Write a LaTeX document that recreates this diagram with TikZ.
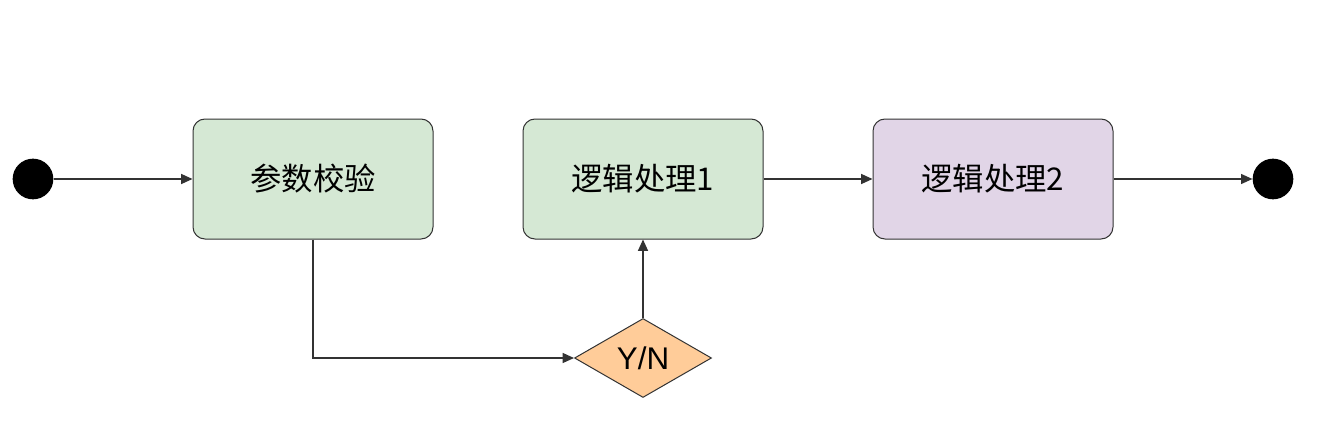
\documentclass[tikz,border=0pt]{standalone}
\usepackage{fontspec}
\setmainfont{Liberation Sans}
\newfontfamily\cjk{Noto Sans CJK SC}
\usetikzlibrary{shapes.geometric,arrows.meta}
\definecolor{stepgreen}{HTML}{D5E8D4}
\definecolor{steppurple}{HTML}{E1D5E7}
\definecolor{choiceorange}{HTML}{FFCC99}
\definecolor{lineGray}{HTML}{333333}
\tikzset{
  stepbox/.style={draw=black!80, line width=0.75pt, rounded corners=9pt,
    minimum width=180pt, minimum height=90pt, inner sep=0pt,
    font=\cjk\fontsize{23.5}{27}\selectfont},
  dot/.style={circle, fill=black, minimum size=30.5pt, inner sep=0pt},
  choice/.style={diamond, draw=black!80, line width=0.75pt, fill=choiceorange,
    minimum width=102.75pt, minimum height=59.25pt, inner sep=0pt,
    font=\fontsize{23.5}{27}\selectfont},
  flow/.style={draw=lineGray, line width=0.9pt, -{Triangle[length=8.5pt,width=7.5pt]}}
}
\begin{document}
\begin{tikzpicture}[x=0.75pt,y=-0.75pt]
      \def\midy{179};
      \useasboundingbox (0,0) rectangle (1328,428);
      \node[dot] (start) at (33,\midy) {};
      \node[stepbox, fill=stepgreen] (check) at (313,\midy) {参数校验};
      \node[stepbox, fill=stepgreen] (logicA) at (643,\midy) {逻辑处理1};
      \node[stepbox, fill=steppurple] (logicB) at (993,\midy) {逻辑处理2};
      \node[dot] (stop) at (1273,\midy) {};
      \node[choice] (yn) at (643,358) {Y/N};
      \draw[flow] (start) -- (check);
      \draw[flow] (check.south) |- (yn.west);
      \draw[flow] (yn.north) -- (logicA.south);
      \draw[flow] (logicA) -- (logicB);
      \draw[flow] (logicB) -- (stop);
    \end{tikzpicture}
\end{document}
